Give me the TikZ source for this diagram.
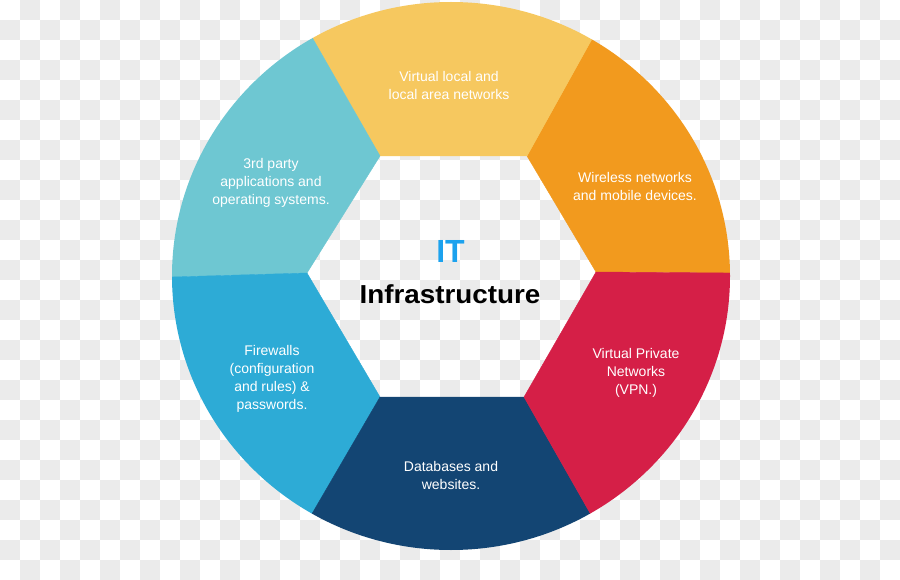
\documentclass[tikz,border=0pt]{standalone}
\usepackage{fontspec}
\setmainfont{Liberation Sans}
\newfontfamily\headfont[FakeStretch=1.07]{Liberation Sans}
\definecolor{checkgrey}{HTML}{EBEBEB}
\definecolor{segyellow}{HTML}{F6C85F}
\definecolor{segorange}{HTML}{F29A1E}
\definecolor{segred}{HTML}{D51F47}
\definecolor{segnavy}{HTML}{134573}
\definecolor{segblue}{HTML}{2DABD6}
\definecolor{segteal}{HTML}{6EC7D2}
\definecolor{itblue}{HTML}{1CA2EE}
\begin{document}
\begin{tikzpicture}[x=1pt, y=-1pt,
  seglabel/.style={text=white, align=center, font=\fontsize{14}{18}\selectfont}]
\useasboundingbox (0,0) rectangle (900,580);
% checkered background
\fill[white] (0,0) rectangle (900,580);
\foreach \i in {0,...,44}
  \foreach \j in {0,...,28}{
    \pgfmathtruncatemacro{\odd}{mod(\i+\j,2)}
    \ifnum\odd=1 \fill[checkgrey] (20*\i,20*\j) rectangle ++(20,20);\fi
  }
% ring of six segments
\begin{scope}
\clip (451,276) ellipse [x radius=279, y radius=274];
\filldraw[segorange, line width=.4] (596,272)--(864,274)--(657,-78)--(527,156)--cycle;
\filldraw[segyellow, line width=.4] (527,156)--(657,-78)--(246,-78)--(380,156)--cycle;
\filldraw[segteal, line width=.4] (380,156)--(246,-78)--(37,281)--(307,273)--cycle;
\filldraw[segblue, line width=.4] (307,273)--(37,281)--(246,627)--(380,397)--cycle;
\filldraw[segnavy, line width=.4] (380,397)--(246,627)--(656,629)--(524,397)--cycle;
\filldraw[segred, line width=.4] (524,397)--(656,629)--(864,274)--(596,272)--cycle;
\end{scope}
\node[seglabel] (vlan) at (449,85) {Virtual local and\\local area networks};
\node[seglabel] (wireless) at (635,186) {Wireless networks\\and mobile devices.};
\node[seglabel] (vpn) at (636,373) {Virtual Private\\Networks\\(VPN.)};
\node[seglabel] (db) at (451,475.5) {Databases and\\websites.};
\node[seglabel] (firewall) at (272,379) {Firewalls\\(configuration\\and rules) \&\\passwords.};
\node[seglabel] (apps) at (271,182.5) {3rd party\\applications and\\operating systems.};
% title
\node[text=itblue, font=\fontsize{32}{36}\selectfont\bfseries] (it) at (450.5,251.5) {IT};
\node[font=\headfont\fontsize{26}{30}\selectfont\bfseries] (infra) at (450,294.5) {Infrastructure};
\end{tikzpicture}
\end{document}
